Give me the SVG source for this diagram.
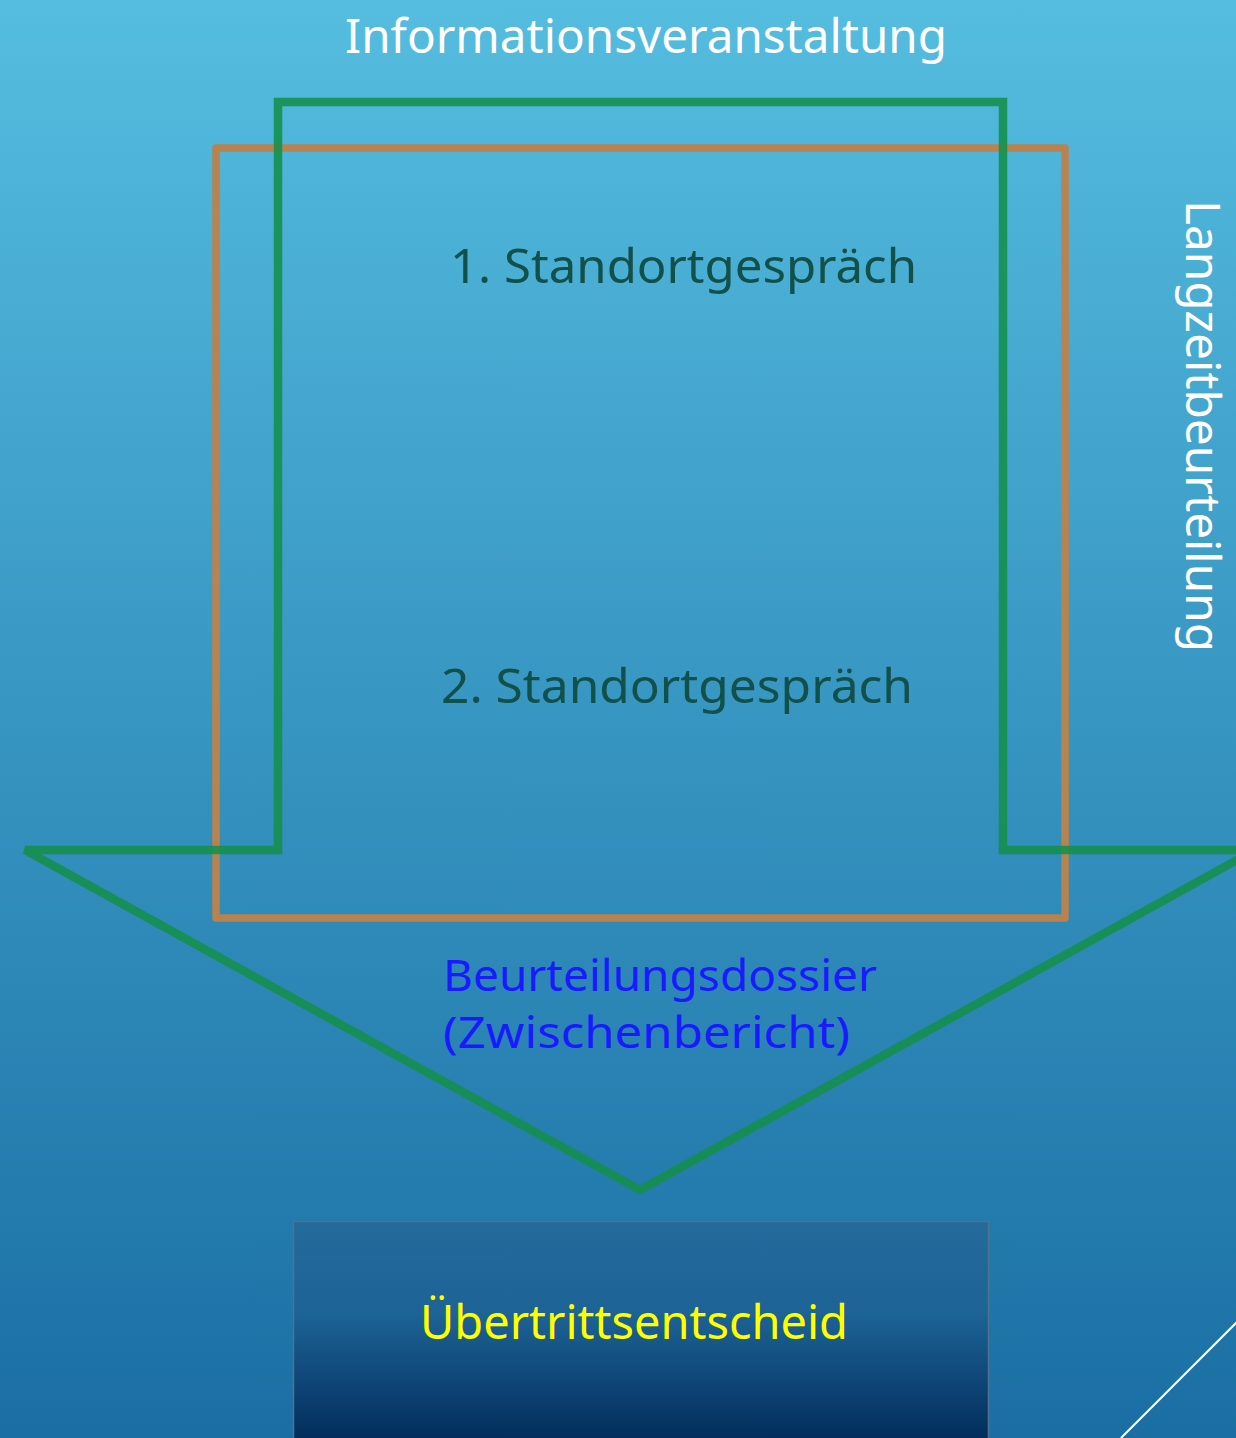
<svg xmlns="http://www.w3.org/2000/svg" width="1236" height="1438" viewBox="0 0 1236 1438">
<defs>
<linearGradient id="bg" x1="0" y1="0" x2="0" y2="1">
<stop offset="0" stop-color="#55bde0"/>
<stop offset="1" stop-color="#1a6ea3"/>
</linearGradient>
<linearGradient id="box" x1="0" y1="0" x2="0" y2="1">
<stop offset="0" stop-color="#246a9b"/>
<stop offset="0.4" stop-color="#1d6396"/>
<stop offset="1" stop-color="#002856"/>
</linearGradient>
<style>
.t{font-family:"Noto Sans","Liberation Sans",sans-serif;font-size:48px;}
.s{font-size:44px;}
.w{fill:#ffffff;}
.g{fill:#12504a;}
.b{fill:#1a1aff;}
.y{fill:#ffff00;}
</style>
</defs>
<rect x="0" y="0" width="1236" height="1438" fill="url(#bg)"/>
<line x1="1238" y1="1321" x2="1121" y2="1438" stroke="#ffffff" stroke-width="2"/>
<g id="connectors">
<rect id="orange-frame" x="216" y="148" width="849" height="770" fill="none" stroke="#b8834f" stroke-width="7.5" stroke-linejoin="round"/>
<polygon id="green-arrow" points="278,102 1003,102 1003,850 1255,850 640,1190 25,850 278,850" fill="none" stroke="#14904a" stroke-opacity="0.88" stroke-width="8.5"/>
</g>
<g id="info"><text class="t w" x="345" y="53" textLength="602" lengthAdjust="spacingAndGlyphs">Informationsveranstaltung</text></g>
<g id="langzeit"><text class="t w" transform="translate(1186,200) rotate(90)" x="0" y="0" textLength="452" lengthAdjust="spacingAndGlyphs">Langzeitbeurteilung</text></g>
<g id="sg1"><text class="t g" x="450" y="283" textLength="467" lengthAdjust="spacingAndGlyphs">1. Standortgespräch</text></g>
<g id="sg2"><text class="t g" x="441" y="703" textLength="472" lengthAdjust="spacingAndGlyphs">2. Standortgespräch</text></g>
<g id="dossier">
<text class="t s b" x="443" y="991" textLength="434" lengthAdjust="spacingAndGlyphs">Beurteilungsdossier</text>
<text class="t s b" x="443" y="1048" textLength="407" lengthAdjust="spacingAndGlyphs">(Zwischenbericht)</text>
</g>
<g id="entscheid">
<rect x="293.5" y="1221.5" width="695" height="230" fill="url(#box)" stroke="#4d7393" stroke-width="1.5"/>
<text class="t y" x="420" y="1339" textLength="428" lengthAdjust="spacingAndGlyphs">Übertrittsentscheid</text>
</g>
</svg>
